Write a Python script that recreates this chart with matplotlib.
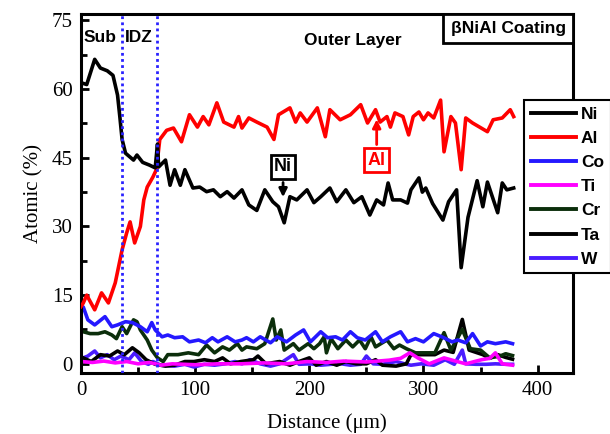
import numpy as np
import matplotlib
matplotlib.use("Agg")
import matplotlib.pyplot as plt
from matplotlib.patches import Rectangle
from matplotlib.ticker import MultipleLocator

# ---- data ----
ni_dist = [0, 5, 12, 17, 23, 28, 32, 34, 36, 39, 46, 49, 54, 60, 65, 67, 68, 74, 78, 82, 87, 91, 98,
           104, 110, 116, 122, 128, 134, 141, 147, 154, 161, 168, 173, 178, 183, 189, 198, 204, 210,
           218, 224, 232, 239, 246, 253, 259, 265, 269, 273, 280, 286, 289, 296, 299, 302, 308, 317,
           322, 329, 333, 339, 347, 352, 356, 365, 369, 373, 379]
ni_pct = [61.4, 61, 66.5, 64.6, 64, 63, 58.7, 54, 49, 46, 44.5, 45.6, 44, 43.4, 42.8, 48, 43, 44.5,
          39, 42.4, 39, 42.4, 38.4, 38.6, 37.6, 38, 36.5, 37.6, 36.2, 38, 34.7, 33.5, 38, 35.4, 34.3,
          30.8, 36.5, 35.8, 38, 35.2, 36.5, 38.4, 35.4, 38, 35.2, 36.5, 32.5, 35.8, 34.7, 39.5, 35.8,
          35.8, 35.1, 38, 40.6, 37.5, 38.4, 35, 31.4, 35.4, 38, 21, 32, 40, 34.3, 39.7, 33, 39.5, 38, 38.4]

al_dist = [0, 2, 5, 12, 18, 24, 30, 36, 40, 43, 47, 52, 55, 58, 63, 66, 69, 75, 81, 88, 95, 102, 107,
           112, 119, 125, 134, 138, 141, 147, 154, 163, 169, 173, 183, 188, 192, 198, 207, 214, 218,
           227, 236, 245, 251, 258, 262, 268, 271, 275, 282, 287, 291, 296, 300, 304, 309, 315, 318,
           324, 328, 333, 337, 343, 356, 361, 369, 376, 379]
al_pct = [12.5, 13.3, 15, 11.8, 15.5, 13.3, 17.7, 24.9, 28.6, 31, 26.4, 30, 35.8, 38.6, 40.8, 42.4,
          49, 51, 51.5, 48.5, 54.4, 51.7, 54, 52.2, 57, 52.8, 51.7, 54, 51.5, 53.7, 52.8, 51.7, 49,
          54.4, 55.9, 52.8, 54.8, 52.8, 55.9, 49.6, 55.5, 53.3, 54.4, 56.6, 52.6, 55.5, 52.8, 54,
          51.7, 54.8, 54, 50, 54, 55, 53.3, 54.8, 53.7, 57.6, 46.3, 54, 52.6, 42.4, 53.7, 52.6, 50.7,
          53.3, 53.7, 55.5, 54]

co_dist = [0, 2, 6, 12, 21, 27, 32, 39, 45, 52, 58, 62, 65, 71, 76, 82, 89, 95, 103, 109, 115, 120,
           128, 135, 141, 145, 151, 157, 166, 172, 180, 188, 195, 201, 210, 216, 223, 229, 236, 242,
           249, 258, 264, 271, 280, 286, 293, 300, 309, 316, 325, 330, 337, 343, 350, 356, 363, 372, 378]
co_pct = [12.5, 12.4, 9.6, 8.5, 10.3, 8.1, 8.5, 9.2, 9, 8.1, 7, 9, 7.4, 5.9, 6.3, 5.7, 5.9, 4.8, 5.2,
          4.6, 5.7, 4.8, 5.9, 4.8, 5.2, 5.7, 4.8, 5.9, 4.6, 5.9, 4.8, 6.3, 7.4, 4.8, 7, 5.7, 5.9,
          5.2, 7, 5.7, 5.2, 7, 4.8, 5.9, 7, 4.8, 5.5, 4.8, 6.6, 5.9, 4.8, 5.2, 4.6, 6.6, 3.9, 4.8,
          4.4, 4.8, 4.4]

ti_dist = [0, 10, 20, 30, 40, 50, 60, 70, 80, 100, 120, 140, 160, 180, 198, 215, 230, 250, 270, 280,
           288, 295, 305, 318, 328, 337, 351, 358, 363, 369, 378]
ti_pct = [0.5, 0.3, 0.6, 0.2, 0.5, 0, 0.3, -0.3, 0, -0.2, 0, 0, 0.2, 0, 0.5, 0.3, 0.6, 0.4, 0.8, 1.2,
          2.4, 1.3, 0, 1.3, 0.6, 0, 0.9, 1.2, 2.4, 0, -0.3]

cr_dist = [0, 2, 8, 15, 21, 27, 31, 36, 40, 46, 49, 52, 58, 62, 67, 72, 76, 85, 94, 103, 110, 117,
           124, 130, 137, 141, 145, 154, 161, 168, 171, 175, 178, 186, 191, 199, 204, 209, 213, 215,
           219, 225, 232, 238, 244, 249, 254, 258, 268, 274, 279, 285, 293, 310, 318, 324, 334, 341,
           350, 358, 367, 372, 378]
cr_pct = [7, 7, 6.6, 6.6, 7, 6.3, 5.5, 8.1, 6.6, 9.6, 9.2, 7.4, 5.2, 3, 1.3, 0.5, 2, 2, 2.4, 2, 4.1,
          2.4, 3.7, 3, 4.4, 3, 3.7, 3.3, 4.4, 9.8, 5.2, 7.4, 3, 4.4, 3, 4.4, 3.3, 4.4, 5.9, 2.4, 5.5,
          3.3, 5.2, 3.7, 5.2, 3.3, 5.9, 3.7, 5.2, 3.3, 4.1, 3.3, 2.4, 2.4, 6.8, 3, 7.5, 3.3, 3, 1.3,
          1.7, 2.2, 1.8]

ta_dist = [0, 2, 9, 17, 25, 32, 38, 45, 51, 57, 65, 74, 82, 91, 99, 108, 117, 124, 131, 140, 151,
           155, 162, 174, 183, 191, 200, 206, 215, 224, 232, 241, 250, 258, 264, 276, 285, 289, 295,
           310, 318, 326, 334, 340, 346, 352, 358, 365, 372, 378]
ta_pct = [1.5, 1.3, 0.5, 2, 1.7, 2.8, 2, 3.5, 2.4, 0.9, -0.1, -0.5, -0.3, 0.5, 0.5, 0.9, 0.5, 1.3, 0,
          0.5, 0.9, 1.7, 0, 0.5, -0.3, 0.5, 1.3, -0.3, 0.5, -0.3, 0.5, 0, 0, 0.9, -0.3, -0.5, 0, 2,
          2, 2, 3, 2.5, 9.7, 3, 2.5, 2, 1.2, 2, 1.4, 1]

w_dist = [0, 2, 6, 12, 17, 23, 29, 35, 42, 47, 53, 59, 63, 70, 82, 91, 99, 108, 117, 126, 135, 141,
          148, 157, 166, 174, 186, 191, 201, 210, 219, 228, 236, 245, 250, 256, 264, 276, 285, 289,
          298, 309, 319, 327, 334, 337, 346, 355, 363, 372, 378]
w_pct = [1.3, 1.3, 1.7, 2.8, 1.3, 2, 0.9, 1.7, 0.9, 2.4, 0.5, -0.1, 0.5, -0.3, -0.5, -0.1, -0.7,
         -0.1, -0.3, 0, 0.5, 0, 0.9, 0, -0.5, 0, 2, -0.1, 0, -0.3, -0.1, 0, -0.3, -0.1, 1.7, 0,
         -0.1, 0.5, -0.1, -0.3, 0, -0.3, 0.9, -0.1, 3, 0, -0.1, -0.1, 0, -0.1, -0.1]

zone_bounds = [36, 67]

series = [
    ("Ni", ni_dist, ni_pct, "black"),
    ("Al", al_dist, al_pct, "#ff0000"),
    ("Co", co_dist, co_pct, "#2418ff"),
    ("Ti", ti_dist, ti_pct, "#ff00ff"),
    ("Cr", cr_dist, cr_pct, "#0b2e0b"),
    ("Ta", ta_dist, ta_pct, "black"),
    ("W", w_dist, w_pct, "#4a1cff"),
]

serif = "Liberation Serif"
sans = "Liberation Sans"

fig = plt.figure(figsize=(6.1, 4.34), dpi=100)
ax = fig.add_axes([0.1328, 0.1406, 0.8066, 0.8271])

# draw from the back so Ni/Al sit on top
for name, d, v, c in reversed(series):
    ax.plot(d, v, color=c, lw=2.6, label=name, zorder=3 if name in ("Ni", "Al") else 2)

for b in zone_bounds:
    ax.axvline(b, color="#2a22ff", ls=(0, (1, 1.2)), lw=2.0, zorder=4)

ax.set_xlim(0, 431)
ax.set_ylim(-2, 76.4)
ax.xaxis.set_major_locator(MultipleLocator(100))
ax.xaxis.set_minor_locator(MultipleLocator(50))
ax.yaxis.set_major_locator(MultipleLocator(15))
ax.yaxis.set_minor_locator(MultipleLocator(7.5))
ax.tick_params(which="both", direction="in", top=False, right=False, width=2)
ax.tick_params(which="major", length=6, labelsize=15, pad=6)
ax.tick_params(which="minor", length=4)
for lab in ax.get_xticklabels() + ax.get_yticklabels():
    lab.set_fontfamily(serif)
for s in ax.spines.values():
    s.set_linewidth(2.2)

ax.set_xlabel("Distance (\u03bcm)", fontsize=15, family=serif, labelpad=9)
ax.set_ylabel("Atomic (%)", fontsize=15, family=serif, labelpad=6)

# zone labels
ax.text(2, 71.2, "Sub", fontsize=12.5, fontweight="bold", family=sans, va="center", ha="left")
ax.text(38, 71.2, "IDZ", fontsize=12.5, fontweight="bold", family=sans, va="center", ha="left")
ax.text(238, 70.7, "Outer Layer", fontsize=12.5, fontweight="bold", family=sans, va="center", ha="center")

# coating label box in the top-right corner
ax.add_patch(Rectangle((0.736, 0.919), 0.264, 0.081, transform=ax.transAxes,
                       facecolor="white", edgecolor="black", lw=2, zorder=5))
ax.text(0.868, 0.96, "\u03b2NiAl Coating", transform=ax.transAxes, fontsize=12.5,
        fontweight="bold", family=sans, ha="center", va="center", zorder=6)

# element call-outs
ax.annotate("Ni", xy=(177, 35.8), xytext=(177, 43.0), fontsize=13, fontweight="bold",
            family=sans, ha="center", va="center", color="black",
            bbox=dict(boxstyle="square,pad=0.18", fc="white", ec="black", lw=2),
            arrowprops=dict(arrowstyle="-|>", color="black", lw=2, mutation_scale=12))
ax.annotate("Al", xy=(259, 54), xytext=(259, 44.5), fontsize=13, fontweight="bold",
            family=sans, ha="center", va="center", color="#ff0000",
            bbox=dict(boxstyle="square,pad=0.18", fc="white", ec="#ff0000", lw=2),
            arrowprops=dict(arrowstyle="-|>", color="#ff0000", lw=2, mutation_scale=12))

handles, labels = ax.get_legend_handles_labels()
order = [labels.index(n) for n, _, _, _ in series]
leg = ax.legend([handles[i] for i in order], [labels[i] for i in order],
                loc="upper left", bbox_to_anchor=(524 / 610, 1 - 100 / 434),
                bbox_transform=fig.transFigure, fancybox=False, framealpha=1,
                edgecolor="black", handlelength=2.6, handletextpad=0.3,
                labelspacing=0.52, borderpad=0.38, borderaxespad=0,
                prop={"family": sans, "weight": "bold", "size": 12.5})
leg.get_frame().set_linewidth(1.5)
leg.set_zorder(10)
for ln in leg.get_lines():
    ln.set_linewidth(2.8)

fig.savefig("out.png", dpi=100)
